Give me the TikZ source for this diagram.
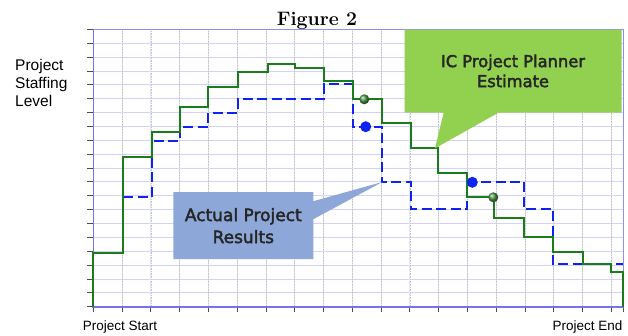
\documentclass[tikz,border=0pt]{standalone}
\usepackage{fontspec}
\newfontfamily\labelfont{Liberation Sans}
\newfontfamily\calloutfont[FakeBold=2.5]{DejaVu Sans}
\usepackage{tikz}
\usetikzlibrary{math,shapes.callouts}
\definecolor{PlanGreen}{RGB}{25,125,25}
\definecolor{ActualBlue}{RGB}{15,35,240}
\definecolor{PlanFill}{RGB}{146,208,80}
\definecolor{ActualFill}{RGB}{141,168,216}
\definecolor{AxisBlue}{RGB}{115,115,235}
\definecolor{GridBlue}{RGB}{210,210,252}
\tikzset{%
  grid lines/.style={line width=0.8pt, color=GridBlue},
  grid dots/.style={line width=0.6pt, color=gray!45, densely dotted},
  tick lines/.style={line width=0.8pt, color=black!70},
  plan line/.style={line width=2.2pt, color=PlanGreen},
  actual line/.style={line width=2.2pt, color=ActualBlue, dash pattern=on 10pt off 4.5pt},
  callout box/.style={rectangle callout, inner sep=0pt, align=center,
    font=\calloutfont\fontsize{16.3}{20}\selectfont, text=black!85}
}

\begin{document}
\begin{tikzpicture}[x=1pt,y=-1pt]
    \tikzmath{
      \xl=93.3;
      \xr=623;
      \yt=29.3;
      \yb=306.7;
      \dx=28.78;
      \dy=13.87;
    }
    \useasboundingbox[fill=white] (0,0) rectangle (628,335);
    % grid
    \foreach \r in {1,...,19} {
      \draw[grid lines] (\xl,\yb-\r*\dy) -- (\xr,\yb-\r*\dy);
    }
    \foreach \c in {1,...,18} {
      \draw[grid lines, color=GridBlue!60] (\xl+\c*\dx,\yt) -- (\xl+\c*\dx,\yb);
      \draw[grid dots] (\xl+\c*\dx,\yt) -- (\xl+\c*\dx,\yb);
    }
    \foreach \r in {0,...,20} {
      \draw[tick lines] (\xl-6,\yb-\r*\dy) -- (\xl,\yb-\r*\dy);
    }
    \foreach \c in {0,...,18} {
      \draw[tick lines] (\xl+\c*\dx,\yb) -- (\xl+\c*\dx,\yb+5);
    }
    \draw[tick lines] (\xr,\yb) -- (\xr,\yb+5);
    % frame and axes
    \draw[line width=1pt, color=AxisBlue!80] (\xl,\yt) -- (\xr,\yt) -- (\xr,\yb);
    \draw[line width=1.5pt, color=AxisBlue] (\xl,\yt) -- (\xl,\yb);
    \draw[line width=2.4pt, color=AxisBlue] (\xl-1,\yb) -- (\xr+1,\yb);
    % staffing curves
    \draw[actual line] (123.3,197.3) -| (151.7,140.7) -| (180,126.7)
      -| (208.3,112.7) -| (237.7,99) -| (324,84.3) -| (352.7,126.7)
      -| (381.7,181.7) -| (411,209.3) -| (466.7,181.7) -| (524.3,209.3)
      -| (553.3,264.3) -- (\xr,264.3);
    \draw[plan line] (\xl,\yb) |- (123.3,253.3) |- (151.7,157.3)
      |- (180,131.7) |- (208.3,106.7) |- (237.7,86.7) |- (267.7,71.7)
      |- (295,64.3) |- (324,68.3) |- (352.7,80.7) |- (381.7,99.3)
      |- (411,123.3) |- (437.7,148.3) |- (466.7,173.3) |- (494.3,197.3)
      |- (524.3,217.7) |- (553.3,236.7) |- (582.7,251.7) |- (611,264)
      |- (\xr,271.7) -- (\xr,\yb);
    \shade[ball color=PlanGreen!80] (364.3,99.3) circle (5pt);
    \fill[ActualBlue] (365.7,126.7) circle (5.5pt);
    \fill[ActualBlue] (472.3,182.3) circle (5.5pt);
    \shade[ball color=PlanGreen!80] (493.3,197.3) circle (5pt);
    % callouts
    \coordinate (plan tip) at (435,148.3);
    \coordinate (actual tip) at (382.3,182);
    \node[callout box, fill=PlanFill, minimum width=217pt, minimum height=83pt,
      callout absolute pointer={(plan tip)}, callout pointer width=55pt]
      (plan) at (513,71) {IC Project Planner\\Estimate};
    \node[callout box, fill=ActualFill, minimum width=140pt, minimum height=67pt,
      callout absolute pointer={(actual tip)}, callout pointer width=18pt,
      font=\calloutfont\fontsize{17}{22}\selectfont]
      (actual) at (243.3,225.7) {Actual Project\\Results};
    % labels
    \node[font=\bfseries\fontsize{19.5}{22}\selectfont, anchor=base] (title) at (317,25) {Figure 2};
    \node[font=\labelfont\fontsize{15.5}{18}\selectfont, align=left, anchor=north west, inner sep=0pt]
      (ylabel) at (15,59) {Project\\Staffing\\Level};
    \node[font=\labelfont\fontsize{13.5}{16}\selectfont, anchor=base west, inner sep=0pt]
      (start) at (82.7,330) {Project Start};
    \node[font=\labelfont\fontsize{13.5}{16}\selectfont, anchor=base east, inner sep=0pt]
      (end) at (622.7,330) {Project End};
  \end{tikzpicture}
\end{document}
